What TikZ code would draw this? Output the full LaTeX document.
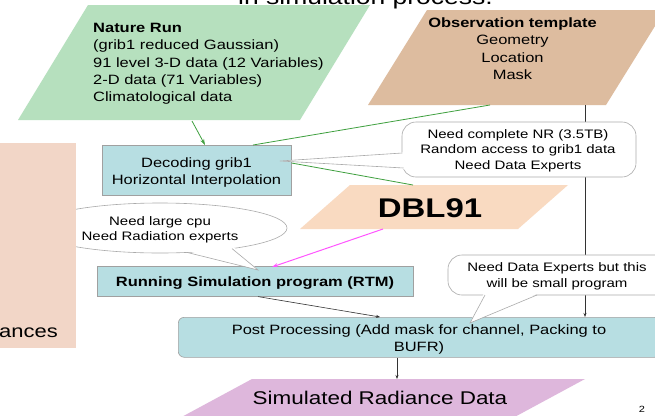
\documentclass[tikz,border=0pt]{standalone}
\usepackage{fontspec}
\setmainfont[FakeStretch=1.22]{Liberation Sans}
\usetikzlibrary{arrows.meta,calc,shapes.geometric}
\definecolor{nrgreen}{HTML}{B6E0BE}
\definecolor{obstan}{HTML}{DDBC9F}
\definecolor{dblpeach}{HTML}{F9DAC1}
\definecolor{leftpeach}{HTML}{F2D6C7}
\definecolor{boxblue}{HTML}{B7DEE2}
\definecolor{simpurple}{HTML}{DEB7DC}
\definecolor{lnkgreen}{HTML}{3FA03F}
\definecolor{lnkpink}{HTML}{FF55FF}
\definecolor{boxedge}{HTML}{A0A0A0}
\definecolor{calledge}{HTML}{AAAAAA}
\begin{document}
\begin{tikzpicture}[x=1pt,y=-1pt,
  txt/.style={inner sep=0pt, font=\fontsize{13.5}{17.4}\selectfont},
  calltxt/.style={inner sep=0pt, align=center, font=\fontsize{12.3}{15.5}\selectfont},
  bluebox/.style={draw=boxedge, fill=boxblue, line width=0.6pt, inner sep=0pt},
  callout/.style={draw=calledge, fill=white, line width=0.6pt},
  calledgeline/.style={draw=calledge, line width=0.6pt},
  greenlink/.style={draw=lnkgreen, line width=0.8pt},
  blacklink/.style={draw=black!80, line width=0.6pt, -{Stealth[length=4pt,width=3pt]}},
]
\useasboundingbox (0,0) rectangle (655,415);
\fill[white] (0,0) rectangle (655,415);

% title (cut off at top)
\node[anchor=base, inner sep=0pt, font=\fontsize{21.7}{26}\selectfont] (title) at (365.5,5) {in simulation process.};

% Nature Run
\fill[nrgreen] (88,5) -- (370,5) -- (300,120) -- (18,120) -- cycle;
\node[txt, anchor=base west, align=left] (nr) at (93,101.9) {\textbf{Nature Run}\\(grib1 reduced Gaussian)\\91 level 3-D data (12 Variables)\\2-D data (71 Variables)\\Climatological data};
\coordinate (nrB) at (192,121);

% Observation template
\fill[obstan] (427,10) -- (665,10) -- (606,105) -- (368,105) -- cycle;
\node[txt, anchor=base, align=center] (obs) at (512.5,79.7) {\textbf{Observation template}\\Geometry\\Location\\Mask};
\coordinate (obsB1) at (490,105);
\coordinate (obsB2) at (585,105);

% Decoding
\node[bluebox, minimum width=189pt, minimum height=50pt, anchor=north west] (dec) at (102,145) {};
\node[txt, anchor=base, align=center] (dect) at (196.5,184.4) {Decoding grib1\\Horizontal Interpolation};

% DBL91
\fill[dblpeach] (350,185) -- (568,185) -- (518,229) -- (300,229) -- cycle;
\node[inner sep=0pt, anchor=base, font=\bfseries\fontsize{27}{30}\selectfont] (dbl) at (430,217) {DBL91};
\coordinate (dblT) at (413,185);
\coordinate (dblB) at (383,229);

% Running
\node[bluebox, minimum width=316pt, minimum height=30pt, anchor=north west] (run) at (97,266) {};
\node[txt, anchor=base, font=\fontsize{13.5}{17.4}\selectfont\bfseries] (runt) at (255,286) {Running Simulation program (RTM)};

% Post processing
\node[bluebox, rounded corners=6pt, minimum width=482pt, minimum height=40pt, anchor=north west] (post) at (178,317) {};
\node[txt, anchor=base, align=center] (postt) at (419,351.4) {Post Processing (Add mask for channel, Packing to\\BUFR)};

% Simulated Radiance Data
\fill[simpurple] (252,379) -- (585,379) -- (472,440) -- (139,440) -- cycle;
\node[inner sep=0pt, anchor=base, font=\fontsize{18.4}{22}\selectfont] (sim) at (380,404) {Simulated Radiance Data};

% connectors
\draw[greenlink, -{Stealth[length=6pt,width=4pt]}] (nrB) -- ($(dec.north west)+(103,0)$);
\draw[greenlink] (obsB1) -- ($(dec.north west)+(151,0)$);
\draw[greenlink] ($(dec.north east)+(0,18)$) -- (dblT);
\draw[draw=lnkpink, line width=1pt, -{Stealth[length=6pt,width=4pt]}] (dblB) -- ($(run.north west)+(175,1)$);
\draw[blacklink] ($(run.south west)+(161,0)$) -- ($(post.north west)+(202,0)$);
\draw[blacklink] (obsB2) -- (obsB2 |- post.north);
\draw[blacklink] ($(post.south west)+(219,0)$) -- (397,379);

% callout 1
\node[callout, rounded corners=14pt, minimum width=234pt, minimum height=55pt, inner sep=0pt] (c1box) at (519,149.5) {};
\coordinate (c1tip) at (280,161);
\fill[white] (406,152) -- (c1tip) -- (406,169.5) -- cycle;
\draw[calledgeline] (402.3,153) -- (c1tip) -- (403.5,168);
\node[calltxt, anchor=base] (c1) at (518,169) {Need complete NR (3.5TB)\\Random access to grib1 data\\Need Data Experts};

% callout 2
\node[ellipse, callout, minimum width=254pt, minimum height=50pt, inner sep=0pt] (c2box) at (160,228) {};
\coordinate (c2tip) at (258,270);
\fill[white] (186,250.5) -- (c2tip) -- (233,246.5) -- cycle;
\draw[calledgeline] (187,252.4) -- (c2tip) -- (232,248.6);
\node[calltxt, anchor=base] (c2) at (160,240.5) {Need large cpu\\Need Radiation experts};

% callout 3
\node[callout, rounded corners=14pt, minimum width=222pt, minimum height=40pt, inner sep=0pt] (c3box) at (559,275) {};
\coordinate (c3tip) at (470,323);
\fill[white] (484,293) -- (c3tip) -- (539,293) -- cycle;
\draw[calledgeline] (485,295) -- (c3tip) -- (537,295);
\node[calltxt, anchor=base] (c3) at (557,287) {Need Data Experts but this\\will be small program};

% left panel (cut off)
\fill[leftpeach] (-5,143) rectangle (76,348);
\node[inner sep=0pt, anchor=base east, font=\fontsize{18}{22}\selectfont] (rad) at (58,337) {Radiances};

% page number
\node[inner sep=0pt, anchor=base, font=\fontsize{9}{11}\selectfont] (pg) at (642,412) {2};
\end{tikzpicture}
\end{document}
